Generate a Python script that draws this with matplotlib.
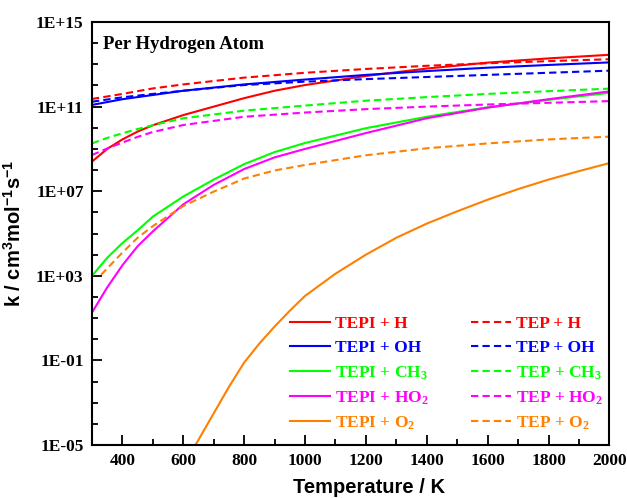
import numpy as np
import matplotlib
matplotlib.use("Agg")
import matplotlib.pyplot as plt
from matplotlib.ticker import FixedLocator, FuncFormatter

# log10(k), per hydrogen atom
T_A = [300, 350, 400, 450, 500, 600, 700, 800, 900, 1000, 1200, 1400, 1600, 1800, 2000]
T_B = [300, 400, 500, 600, 800, 1000, 1200, 1400, 1600, 1800, 2000]
T_C = [300, 350, 400, 450, 500, 600, 800, 1000, 1200, 1400, 1600, 1800, 2000]

tepi_h = [8.40, 9.00, 9.45, 9.82, 10.12, 10.60, 11.00, 11.40, 11.75, 12.02, 12.45, 12.80, 13.08, 13.28, 13.45]
tepi_oh = [11.08, 11.35, 11.55, 11.75, 12.05, 12.28, 12.50, 12.68, 12.84, 12.97, 13.09]
tepi_ch3 = [3.00, 3.85, 4.55, 5.15, 5.80, 6.75, 7.55, 8.28, 8.85, 9.28, 9.98, 10.52, 10.97, 11.32, 11.65]
tepi_ho2 = [1.26, 2.45, 3.50, 4.40, 5.10, 6.38, 7.30, 8.05, 8.60, 9.00, 9.75, 10.45, 10.95, 11.35, 11.72]
T_O2 = [640, 700, 750, 800, 850, 900, 950, 1000, 1100, 1200, 1300, 1400, 1500, 1600, 1700, 1800, 1900, 2000]
tepi_o2 = [-5.0, -3.5, -2.25, -1.1, -0.2, 0.6, 1.35, 2.05, 3.10, 4.00, 4.80, 5.47, 6.05, 6.60, 7.10, 7.55, 7.95, 8.33]

tep_h = [11.36, 11.60, 11.86, 12.05, 12.37, 12.60, 12.78, 12.93, 13.05, 13.15, 13.24]
tep_oh = [11.23, 11.44, 11.60, 11.75, 12.02, 12.18, 12.30, 12.40, 12.50, 12.60, 12.70]
tep_ch3 = [9.26, 9.52, 9.74, 9.94, 10.12, 10.45, 10.81, 11.05, 11.28, 11.45, 11.60, 11.73, 11.85]
tep_ho2 = [8.71, 9.02, 9.30, 9.57, 9.80, 10.13, 10.52, 10.72, 10.88, 11.00, 11.10, 11.18, 11.26]
T_O2D = [330, 350, 400, 450, 500, 600, 700, 800, 900, 1000, 1200, 1400, 1600, 1800, 2000]
tep_o2 = [3.05, 3.35, 4.10, 4.80, 5.35, 6.30, 6.98, 7.60, 7.98, 8.24, 8.70, 9.03, 9.26, 9.45, 9.58]

RED, BLUE, GREEN, MAG, ORA = "#ff0000", "#0000ff", "#00ff00", "#ff00ff", "#ff8000"

plt.rcParams["mathtext.fontset"] = "custom"
plt.rcParams["mathtext.bf"] = "Liberation Serif:bold"
plt.rcParams["mathtext.rm"] = "Liberation Serif:bold"
plt.rcParams["mathtext.sf"] = "Liberation Sans:bold"
plt.rcParams["mathtext.default"] = "bf"

fig = plt.figure(figsize=(6.27, 4.98), dpi=100)
ax = fig.add_axes([0.1467, 0.1064, 0.8253, 0.8494])

solid = [
    (T_A, tepi_h, RED, r"TEPI + H"),
    (T_B, tepi_oh, BLUE, r"TEPI + OH"),
    (T_A, tepi_ch3, GREEN, r"TEPI + CH$_3$"),
    (T_A, tepi_ho2, MAG, r"TEPI + HO$_2$"),
    (T_O2, tepi_o2, ORA, r"TEPI + O$_2$"),
]
dashed = [
    (T_B, tep_h, RED, r"TEP + H"),
    (T_B, tep_oh, BLUE, r"TEP + OH"),
    (T_C, tep_ch3, GREEN, r"TEP + CH$_3$"),
    (T_C, tep_ho2, MAG, r"TEP + HO$_2$"),
    (T_O2D, tep_o2, ORA, r"TEP + O$_2$"),
]
for t, lk, c, lab in solid:
    ax.plot(t, 10.0 ** np.array(lk), color=c, lw=1.5, label=lab)
for t, lk, c, lab in dashed:
    ax.plot(t, 10.0 ** np.array(lk), color=c, lw=1.5, ls=(0, (3.5, 2)), label=lab)

ax.set_yscale("log")
ax.set_xlim(300, 2000)
ax.set_ylim(1e-5, 1e15)
ax.yaxis.set_major_locator(FixedLocator([10.0 ** e for e in range(-5, 16, 4)]))
ax.yaxis.set_minor_locator(FixedLocator([10.0 ** e for e in range(-5, 16)]))
ax.yaxis.set_major_formatter(FuncFormatter(lambda v, p: f"1E{int(round(np.log10(v))):+03d}"))
ax.yaxis.set_minor_formatter(FuncFormatter(lambda v, p: ""))
ax.set_xticks(range(400, 2001, 200))
ax.set_xticks(range(300, 2001, 100), minor=True)

ax.tick_params(which="both", direction="in", top=False, right=False,
               labelsize=12.5, width=1.3, pad=6)
ax.tick_params(which="major", length=7)
ax.tick_params(which="minor", length=4)
for lab in ax.get_xticklabels() + ax.get_yticklabels():
    lab.set_fontfamily("Liberation Serif")
    lab.set_fontweight("bold")
for s in ax.spines.values():
    s.set_linewidth(1.5)

ax.set_xlabel("Temperature / K", fontfamily="Liberation Sans", fontweight="bold", fontsize=14.5)
ax.xaxis.set_label_coords(0.535, -0.078)
ax.set_ylabel(r"k / cm$^\mathsf{3}$mol$^\mathsf{-1}$s$^\mathsf{-1}$",
              fontfamily="Liberation Sans", fontweight="bold", fontsize=14.5)
ax.yaxis.set_label_coords(-0.13, 0.5)

ax.text(0.021, 0.946, "Per Hydrogen Atom", transform=ax.transAxes,
        fontfamily="Liberation Serif", fontweight="bold", fontsize=13.5, va="center")

leg = ax.legend(ncol=2, loc="lower right", bbox_to_anchor=(1.018, -0.006), frameon=False,
                prop={"family": "Liberation Serif", "weight": "bold", "size": 12.5},
                handlelength=2.3, handletextpad=0.3, columnspacing=2.4,
                labelspacing=0.45, labelcolor="linecolor")

fig.savefig("out.png", dpi=100)
